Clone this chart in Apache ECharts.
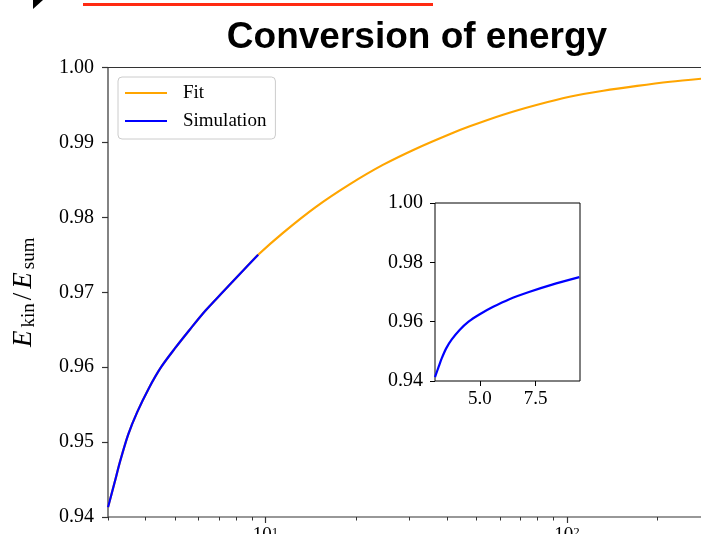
<!DOCTYPE html>
<html>
<head>
    <meta charset="utf-8" />
    <title>Conversion of energy</title>
    <script src="https://cdn.jsdelivr.net/npm/echarts@6/dist/echarts.min.js"></script>
    <style>
        html, body { margin: 0; padding: 0; background: #fff; }
        #chart { width: 701px; height: 534px; }
    </style>
</head>
<body>
    <div id="chart"></div>

    <script type="text/javascript">
        // values
        var simX = [3.0, 3.15, 3.3, 3.5, 3.75, 4.1, 4.5, 5.0, 5.6, 6.3, 7.2, 8.2, 9.45];
        var simY = [0.9413, 0.9445, 0.9476, 0.9510, 0.9540, 0.9572, 0.9600, 0.9625, 0.9650, 0.9675, 0.9700, 0.9724, 0.9750];

        var fitX = [3.0, 3.15, 3.3, 3.5, 3.75, 4.1, 4.5, 5.0, 5.6, 6.3, 7.2, 8.2, 9.45, 11.4, 14.7, 19.0, 24.5, 31.7, 40.8, 47.6, 61.4, 79.2, 102, 132, 171, 220, 279];
        var fitY = [0.9413, 0.9445, 0.9476, 0.9510, 0.9540, 0.9572, 0.9600, 0.9625, 0.9650, 0.9675, 0.9700, 0.9724, 0.9750, 0.9779, 0.9814, 0.9844, 0.9870, 0.9892, 0.9911, 0.99215, 0.9937, 0.9950, 0.9961, 0.9969, 0.99755, 0.9981, 0.9985];

        var majorTicks = [10, 100];
        var minorTicks = [3, 4, 5, 6, 7, 8, 9, 20, 30, 40, 50, 60, 70, 80, 90, 200];
        var insetTicks = [5, 7.5];

        function pairs(xs, ys) {
            var out = [];
            for (var i = 0; i < xs.length; i++) out.push([xs[i], ys[i]]);
            return out;
        }

        var serif = 'Liberation Serif';
        var axisCol = '#333';

        var myChart = echarts.init(document.getElementById('chart'));

        myChart.setOption({
            animation: false,
            backgroundColor: '#fff',
            graphic: [
                // leftovers of the slide at the top
                { type: 'polygon', shape: { points: [[33, 0], [43, 0], [33, 9]] }, style: { fill: '#000' } },
                { type: 'rect', shape: { x: 83, y: 3, width: 350, height: 3 }, style: { fill: '#ff2a12' } },
                {
                    type: 'text', x: 417, y: 19,
                    style: {
                        text: 'Conversion of energy', textAlign: 'center', textVerticalAlign: 'top',
                        fontFamily: 'Liberation Sans', fontWeight: 'bold', fontSize: 37, fill: '#000'
                    }
                }
            ],
            legend: {
                data: [
                    { name: 'Fit', icon: 'rect', itemStyle: { color: '#FFA500' } },
                    { name: 'Simulation', icon: 'rect', itemStyle: { color: '#0000FF' } }
                ],
                orient: 'vertical',
                left: 118,
                top: 77,
                itemWidth: 42,
                itemHeight: 2.2,
                itemGap: 8,
                padding: [6, 9, 8, 7],
                backgroundColor: '#fff',
                borderColor: '#ccc',
                borderWidth: 1,
                borderRadius: 4,
                textStyle: { fontFamily: serif, fontSize: 19, color: '#000', lineHeight: 20, padding: [0, 0, 0, 11] }
            },
            grid: [
                { left: 108, top: 67.5, right: -3, bottom: 17, outerBoundsMode: 'none', show: true, borderColor: axisCol, borderWidth: 1.2 },
                { left: 435, top: 203, width: 145, height: 178, outerBoundsMode: 'none', show: true, borderColor: '#000', borderWidth: 1, backgroundColor: '#fff' }
            ],
            xAxis: [{
                type: 'log', gridIndex: 0, min: 3, max: 285, position: 'bottom',
                axisLine: { show: false },
                axisTick: { customValues: majorTicks, length: 6, lineStyle: { color: axisCol, width: 1.2 } },
                axisLabel: {
                    customValues: majorTicks, margin: 9,
                    formatter: function(v) { return '{b|10}{s|' + Math.round(Math.log10(v)) + '}'; },
                    rich: {
                        b: { fontFamily: serif, fontSize: 19, color: '#000' },
                        s: { fontFamily: serif, fontSize: 13, color: '#000', verticalAlign: 'top', lineHeight: 13 }
                    }
                },
                splitLine: { show: false }
            }, {
                type: 'log', gridIndex: 0, min: 3, max: 285, position: 'bottom',
                axisLine: { show: false },
                axisTick: { customValues: minorTicks, length: 3.5, lineStyle: { color: axisCol, width: 1 } },
                axisLabel: { show: false },
                splitLine: { show: false }
            }, {
                type: 'value', gridIndex: 1, min: 3, max: 9.48,
                axisLine: { show: false },
                axisTick: { customValues: insetTicks, length: 5, lineStyle: { color: '#000', width: 1 } },
                axisLabel: {
                    customValues: insetTicks, margin: 9,
                    formatter: function(v) { return v.toFixed(1); },
                    fontFamily: serif, fontSize: 19, color: '#000'
                },
                splitLine: { show: false }
            }],
            yAxis: [{
                type: 'value', gridIndex: 0, min: 0.94, max: 1.0, interval: 0.01,
                axisLine: { show: false },
                axisTick: { length: 6, lineStyle: { color: axisCol, width: 1.2 } },
                axisLabel: {
                    margin: 14, fontFamily: serif, fontSize: 20, color: '#000',
                    formatter: function(v) { return v.toFixed(2); }
                },
                splitLine: { show: false },
                name: '{i|E}{s|kin}{n|/}{i|E}{s|sum}',
                nameLocation: 'middle',
                nameGap: 69,
                nameTextStyle: {
                    rich: {
                        i: { fontFamily: serif, fontStyle: 'italic', fontSize: 27, color: '#000', lineHeight: 30, padding: [0, 3, 0, 0] },
                        n: { fontFamily: serif, fontSize: 27, color: '#000', lineHeight: 30, padding: [0, 4, 0, 3] },
                        s: { fontFamily: serif, fontSize: 19, color: '#000', lineHeight: 14, verticalAlign: 'bottom' }
                    }
                }
            }, {
                type: 'value', gridIndex: 1, min: 0.94, max: 1.0, interval: 0.02,
                axisLine: { show: false },
                axisTick: { length: 5, lineStyle: { color: '#000', width: 1 } },
                axisLabel: {
                    margin: 12, fontFamily: serif, fontSize: 20, color: '#000',
                    formatter: function(v) { return v.toFixed(2); }
                },
                splitLine: { show: false }
            }],
            series: [{
                name: 'Fit',
                type: 'line',
                xAxisIndex: 0,
                yAxisIndex: 0,
                symbol: 'none',
                smooth: 0.3,
                lineStyle: { color: '#FFA500', width: 2.2 },
                itemStyle: { color: '#FFA500' },
                data: pairs(fitX, fitY)
            }, {
                name: 'Simulation',
                type: 'line',
                xAxisIndex: 0,
                yAxisIndex: 0,
                symbol: 'none',
                smooth: 0.3,
                lineStyle: { color: '#0000FF', width: 2.2 },
                itemStyle: { color: '#0000FF' },
                data: pairs(simX, simY)
            }, {
                name: 'Simulation',
                type: 'line',
                xAxisIndex: 2,
                yAxisIndex: 1,
                symbol: 'none',
                smooth: 0.3,
                lineStyle: { color: '#0000FF', width: 2.2 },
                itemStyle: { color: '#0000FF' },
                data: pairs(simX, simY)
            }]
        });
    </script>
</body>
</html>
